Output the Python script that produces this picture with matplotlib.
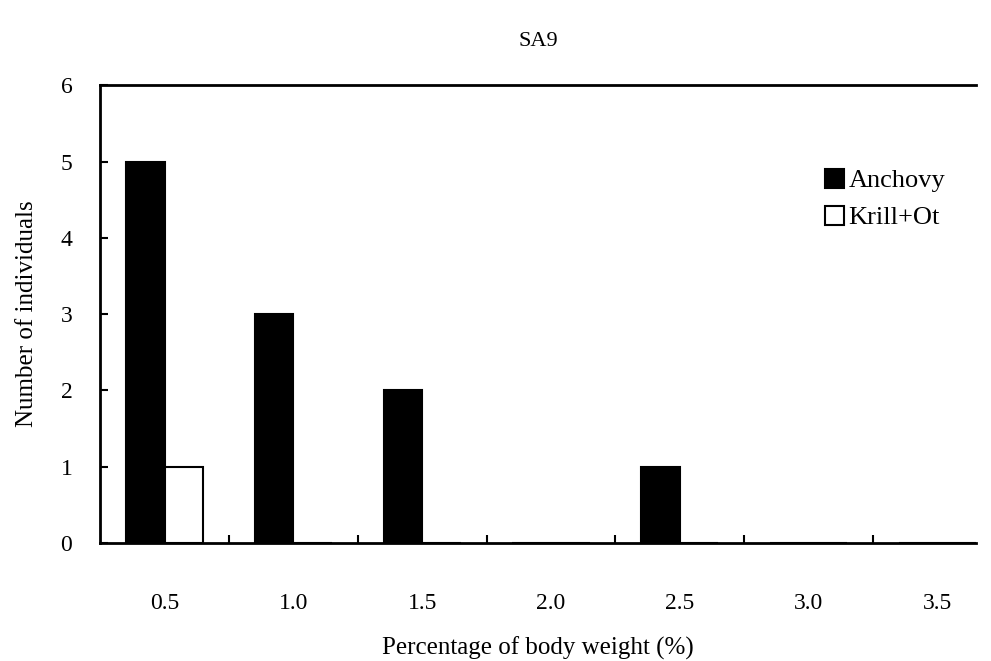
import numpy as np
import matplotlib
matplotlib.use("Agg")
import matplotlib.pyplot as plt

# Данные
categories = ["0.5", "1.0", "1.5", "2.0", "2.5", "3.0", "3.5"]
anchovy = [5, 3, 2, 0, 1, 0, 0]
krill = [1, 0, 0, 0, 0, 0, 0]

plt.rcParams["font.family"] = ["Liberation Serif", "DejaVu Serif"]

fig = plt.figure(figsize=(9.91, 6.61), dpi=100)
ax = fig.add_axes([0.101, 0.1785, 0.884, 0.6925])

x = np.arange(len(categories))
w = 0.3
ax.bar(x - w / 2, anchovy, w, color="black", edgecolor="black", linewidth=1.5, label="Anchovy")
ax.bar(x + w / 2, krill, w, color="white", edgecolor="black", linewidth=1.5, label="Krill+Ot")

ax.set_xlim(-0.5, 6.3)
ax.set_ylim(0, 6)
ax.set_yticks(range(7))
ax.set_xticks(x)
ax.set_xticklabels(categories)
ax.tick_params(axis="x", length=0, pad=36, labelsize=17)
# засечки между категориями
ax.set_xticks(np.arange(0.5, 6.5, 1), minor=True)
ax.tick_params(axis="x", which="minor", direction="in", length=6, width=1.5)
ax.tick_params(axis="y", direction="in", length=6, width=1.5, labelsize=17, pad=20)

for s in ["left", "bottom", "top"]:
    ax.spines[s].set_linewidth(2)
ax.spines["right"].set_visible(False)

ax.set_title("SA9", fontsize=16, pad=28)
ax.set_xlabel("Percentage of body weight (%)", fontsize=18, labelpad=16)
ax.set_ylabel("Number of individuals", fontsize=18, labelpad=16)

ax.legend(loc="upper left", bbox_to_anchor=(0.8, 0.87), frameon=False, fontsize=19,
          handlelength=0.75, handleheight=0.75, handletextpad=0.15, labelspacing=0.5)

plt.savefig("out.png", dpi=100)
